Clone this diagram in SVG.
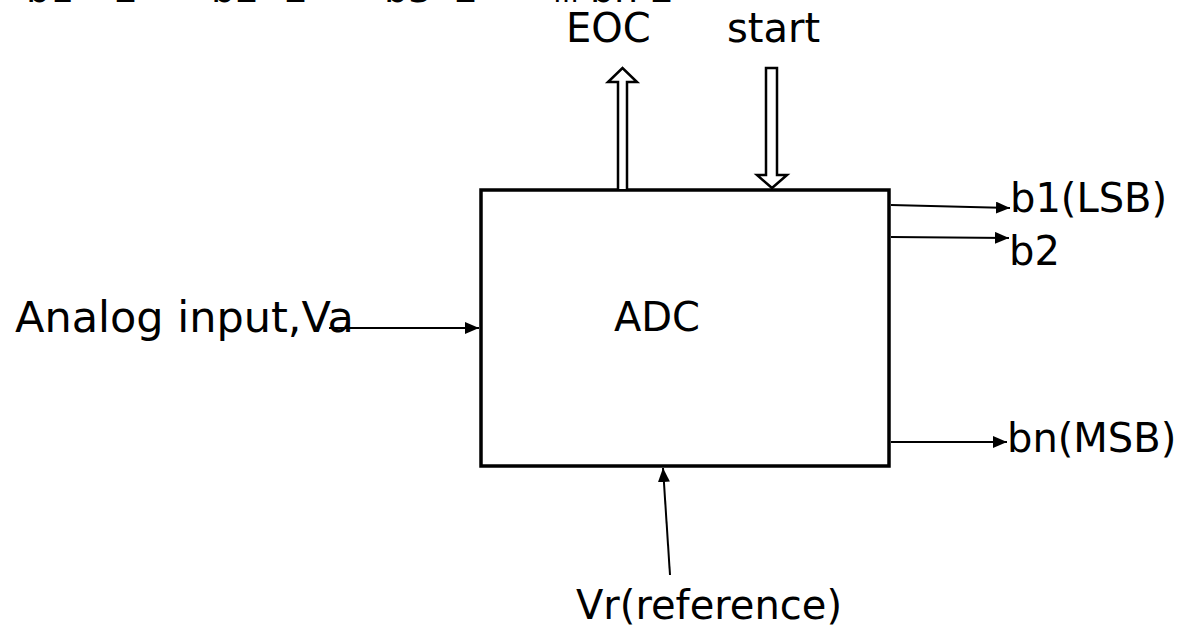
<svg xmlns="http://www.w3.org/2000/svg" width="1181" height="633" viewBox="0 0 1181 633">
<style>
text{font-family:"DejaVu Sans","Liberation Sans",sans-serif;font-size:40px;fill:#000}
.cut{font-size:38px}
.ln{stroke:#000;stroke-width:2;fill:none}
.hol{stroke:#000;stroke-width:2.5;fill:#fff;stroke-linejoin:miter}
</style>
<defs>
<marker id="ah" markerWidth="14" markerHeight="12" refX="14" refY="6" orient="auto" markerUnits="userSpaceOnUse">
<path d="M0,0 L14,6 L0,12 Z" fill="#000"/>
</marker>
</defs>
<rect width="1181" height="633" fill="#fff"/>
<g id="cutoff-formula">
<text class="cut" x="26" y="2">b1</text>
<text class="cut" x="114" y="2">2</text>
<text class="cut" x="211" y="2">b2</text>
<text class="cut" x="284" y="2">2</text>
<text class="cut" x="384" y="2">b3</text>
<text class="cut" x="454" y="2">2</text>
<text class="cut" x="553" y="2" style="font-size:26px">…</text>
<text class="cut" x="590" y="2">bn</text>
<text class="cut" x="650" y="2">2</text>
</g>
<g id="adc">
<rect x="481" y="190" width="408" height="276" fill="#fff" stroke="#000" stroke-width="3.5"/>
<text x="657" y="331" text-anchor="middle">ADC</text>
</g>
<g id="eoc">
<text x="566" y="42">EOC</text>
</g>
<g id="start">
<text x="727" y="42">start</text>
</g>
<g id="analog">
<text x="15" y="332" style="font-size:43px">Analog input,Va</text>
</g>
<g id="b1"><text x="1010" y="212">b1(LSB)</text></g>
<g id="b2"><text x="1009" y="265">b2</text></g>
<g id="bn"><text x="1007" y="452">bn(MSB)</text></g>
<g id="vr"><text x="709" y="619" text-anchor="middle">Vr(reference)</text></g>
<g id="connectors">
<path class="hol" d="M618,189 L618,82 L608,82 L622.5,68 L637,82 L627,82 L627,189"/>
<path class="hol" d="M766,68 L777,68 L777,175 L787,175 L772,188 L757,175 L766,175 Z"/>
<line class="ln" x1="329" y1="328" x2="479" y2="328" marker-end="url(#ah)"/>
<line class="ln" x1="891" y1="205" x2="1010" y2="208" marker-end="url(#ah)"/>
<line class="ln" x1="891" y1="237" x2="1009" y2="238" marker-end="url(#ah)"/>
<line class="ln" x1="891" y1="442" x2="1007" y2="442" marker-end="url(#ah)"/>
<line class="ln" x1="670" y1="575" x2="663" y2="468" marker-end="url(#ah)"/>
</g>
</svg>
